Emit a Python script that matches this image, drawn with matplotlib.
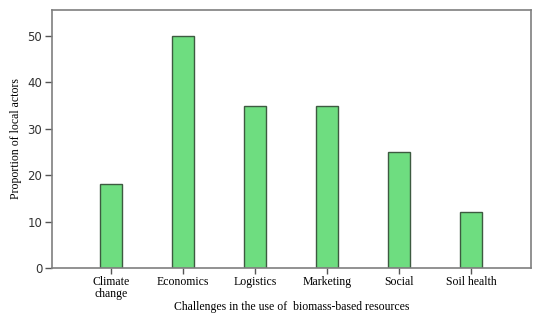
import matplotlib
matplotlib.use("Agg")
from matplotlib import pyplot as plt

categories = ["Climate\nchange", "Economics", "Logistics", "Marketing", "Social", "Soil health"]
values = [18, 50, 35, 35, 25, 12]
yticks = [0, 10, 20, 30, 40, 50]

fig = plt.figure(figsize=(5.5, 3.24), dpi=100)
ax = fig.add_axes([0.0945, 0.173, 0.871, 0.796])

x = list(range(len(categories)))
ax.bar(x, values, width=0.3, color="#6edd80", edgecolor="#3d5a40", linewidth=1.0, zorder=2)

ax.set_xlim(-0.82, 5.83)
ax.set_ylim(0, 55.6)
ax.set_yticks(yticks)
ax.set_yticklabels([str(v) for v in yticks], fontsize=8.5, family="DejaVu Sans", color="#333333")
ax.set_xticks(x)
ax.set_xticklabels(categories, fontsize=8.5, family="Liberation Serif", linespacing=0.95)

for s in ax.spines.values():
    s.set_color("#7f7f7f")
    s.set_linewidth(1.2)
ax.tick_params(axis="both", direction="out", color="#555555", width=1.0)
ax.tick_params(axis="x", length=4, pad=2)
ax.tick_params(axis="y", length=5, pad=2)

ax.set_xlabel("Challenges in the use of  biomass-based resources", fontsize=8.5,
              family="Liberation Serif", labelpad=1)
ax.set_ylabel("Proportion of local actors", fontsize=8.5, family="Liberation Serif", labelpad=4)

fig.savefig("out.png", dpi=100)
